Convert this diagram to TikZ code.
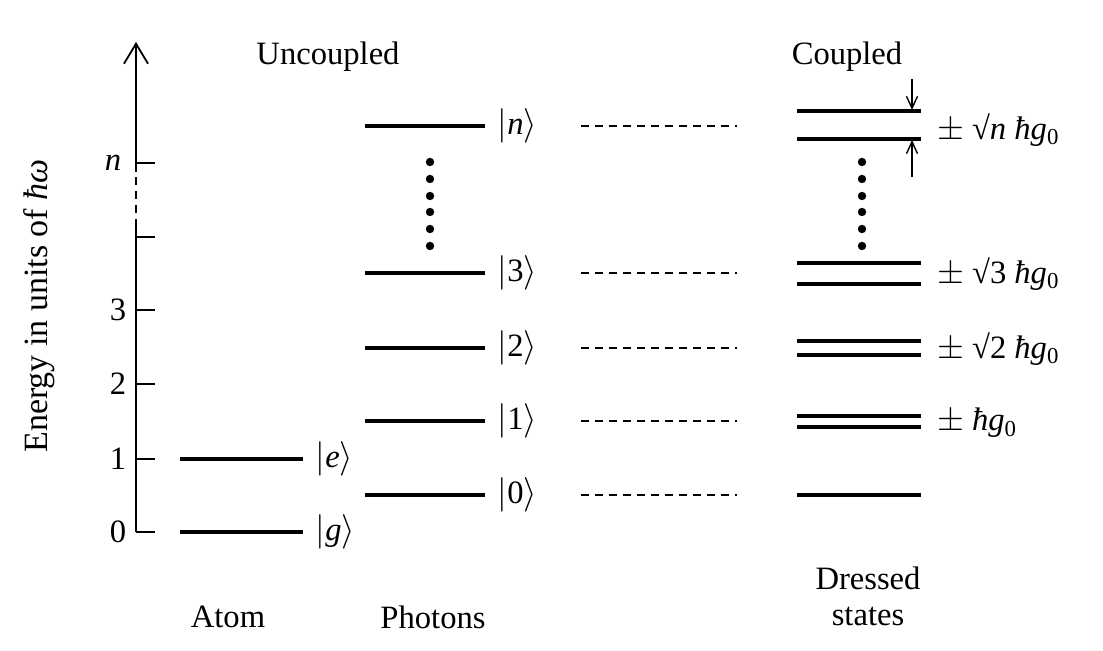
\documentclass[tikz,border=0pt]{standalone}
\usepackage{fontspec}
\setmainfont{Liberation Serif}
\usetikzlibrary{arrows.meta}
\tikzset{
	level/.style={line width=2pt},
	link/.style={dash pattern=on 4pt off 3pt, line width=0.6pt},
	axisline/.style={line width=0.9pt},
	dot/.style={circle, fill, inner sep=0pt, minimum size=4.2pt},
	split/.style={line width=0.7pt, -{Straight Barb[length=6pt,width=5.5pt]}},
}
\newcommand{\ketlbl}[1]{$|$#1$\rangle$}
\newcommand{\coupl}[1]{$\pm$ #1\textit{ħg}\textsubscript{0}}

\begin{document}
\begin{tikzpicture}[x=0.5pt, y=0.5pt, font=\fontsize{16.3}{19}\selectfont]
	\useasboundingbox (0,0) rectangle (1103,651);
	% energy axis
	\draw[axisline] (136,119) -- (136,424);
	\draw[axisline, dashed, dash pattern=on 4pt off 3pt] (136,424) -- (136,479);
	\draw[axisline, -{Straight Barb[length=10pt,width=12pt]}] (136,479) -- (136,609);
	\draw[axisline] (136,119) -- (155,119) node (t0) at (118,119) {0};
	\draw[axisline] (136,192) -- (155,192) node (t1) at (118,192) {1};
	\draw[axisline] (136,267) -- (155,267) node (t2) at (118,267) {2};
	\draw[axisline] (136,341) -- (155,341) node (t3) at (118,341) {3};
	\draw[axisline] (136,414) -- (155,414);
	\draw[axisline] (136,488) -- (155,488) node (tn) at (113,488) {\textit{n}};
	\node[rotate=90, font=\fontsize{17}{20}\selectfont] (energy) at (39,345) {Energy in units of \textit{ħω}};
	% headings
	\node (uncoupled) at (328,594) {Uncoupled};
	\node (coupled) at (847,594) {Coupled};
	\node (atom) at (228,34) {Atom};
	\node (photons) at (433,34) {Photons};
	\node[align=center, inner sep=0pt] (dressed) at (868,55) {Dressed\\[-1pt]states};
	% atom
	\draw[level] (180,119) -- (303,119) node[right=2pt] (g) {\ketlbl{\textit{g}}};
	\draw[level] (180,192) -- (303,192) node[right=2pt] (e) {\ketlbl{\textit{e}}};
	% photons
	\draw[level] (365,156) -- (485,156) node[right=2pt] (p0) {\ketlbl{0}};
	\draw[level] (365,230) -- (485,230) node[right=2pt] (p1) {\ketlbl{1}};
	\draw[level] (365,303) -- (485,303) node[right=2pt] (p2) {\ketlbl{2}};
	\draw[level] (365,378) -- (485,378) node[right=2pt] (p3) {\ketlbl{3}};
	\draw[level] (365,525) -- (485,525) node[right=2pt] (pn) {\ketlbl{\textit{n}}};
	\foreach \y in {405,422,439,455,472,489}
		\node[dot] at (430,\y) {};
	% correspondence
	\draw[link] (581,156) -- (737,156);
	\draw[link] (581,230) -- (737,230);
	\draw[link] (581,303) -- (737,303);
	\draw[link] (581,378) -- (737,378);
	\draw[link] (581,525) -- (737,525);
	% dressed states
	\draw[level] (797,156) -- (921,156);
	\draw[level] (797,235) -- (921,235);
	\draw[level] (797,224) -- (921,224);
	\draw[level] (797,310) -- (921,310);
	\draw[level] (797,296) -- (921,296);
	\draw[level] (797,388) -- (921,388);
	\draw[level] (797,367) -- (921,367);
	\draw[level] (797,540) -- (921,540);
	\draw[level] (797,512) -- (921,512);
	\foreach \y in {405,422,439,455,472,489}
		\node[dot] at (862,\y) {};
	\node[anchor=west] (s1) at (930,228) {\coupl{}};
	\node[anchor=west] (s2) at (930,302) {\coupl{√2 }};
	\node[anchor=west] (s3) at (930,377) {\coupl{√3 }};
	\node[anchor=west] (sn) at (930,521) {\coupl{√\textit{n} }};
	\coordinate (top) at (912,541);
	\coordinate (bot) at (912,511);
	\draw[split] (912,572) -- (top);
	\draw[split] (912,474) -- (bot);
\end{tikzpicture}
\end{document}
